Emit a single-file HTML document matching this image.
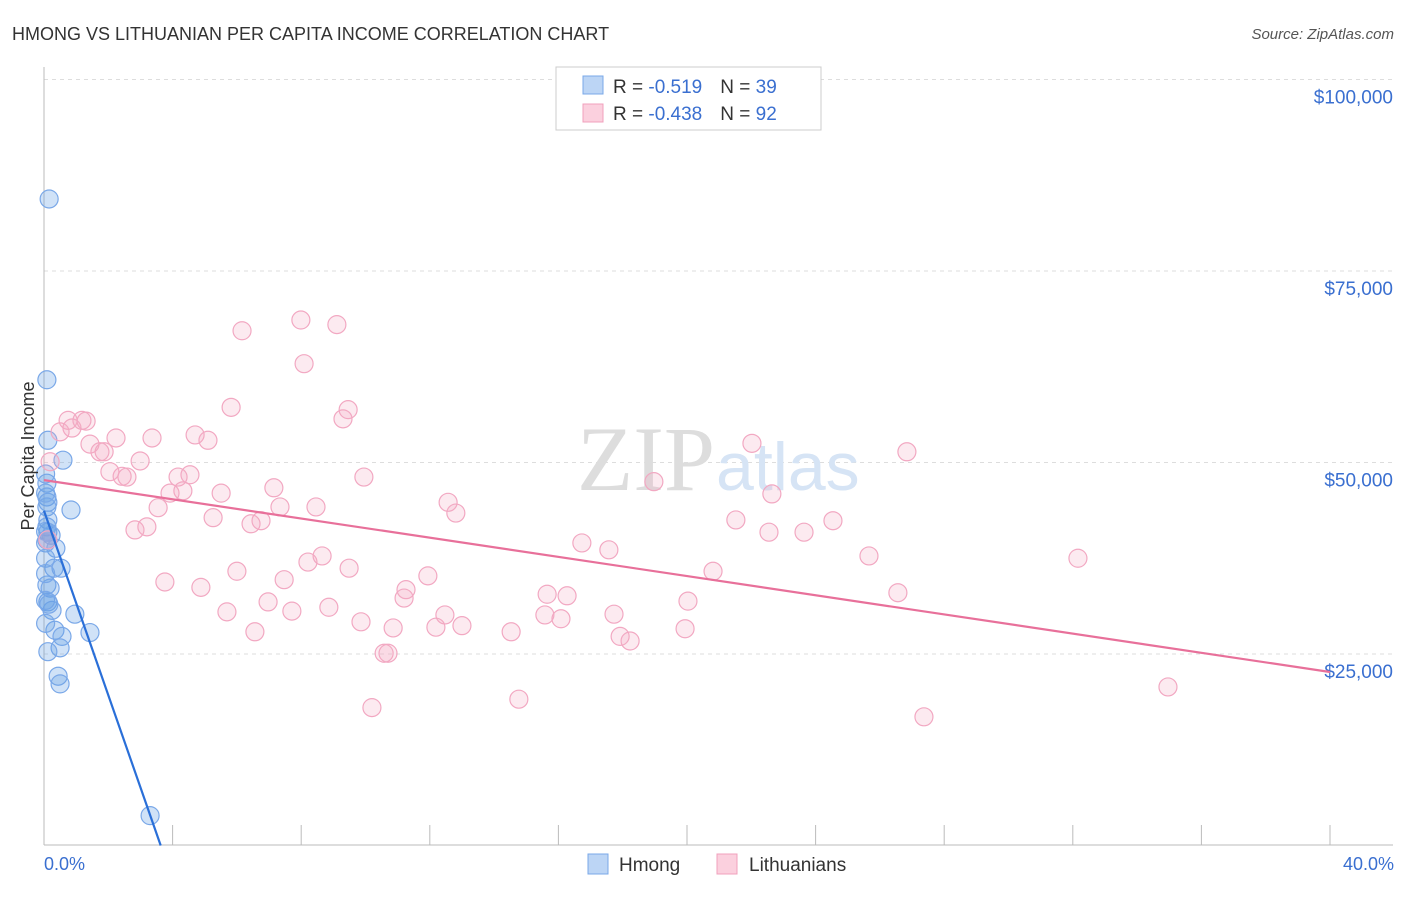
<!DOCTYPE html>
<html><head><meta charset="utf-8"><style>
body{margin:0;background:#fff;font-family:"Liberation Sans",sans-serif}
</style></head><body>
<svg width="1406" height="892" viewBox="0 0 1406 892" xmlns="http://www.w3.org/2000/svg">
<text x="12" y="40" font-size="18" fill="#333">HMONG VS LITHUANIAN PER CAPITA INCOME CORRELATION CHART</text>
<text x="1394" y="39" font-size="15" fill="#555" font-style="italic" text-anchor="end">Source: ZipAtlas.com</text>
<g id="grid"></g>
<text x="715" y="490" font-size="92" fill="#ddd" text-anchor="end" font-family="Liberation Serif,serif">ZIP</text>
<text x="716" y="490" font-size="68" fill="#d6e4f5">atlas</text>
<g id="axes"></g>
<g id="pts"></g>
<g id="lines"></g>
<text transform="translate(34,456) rotate(-90)" font-size="18" fill="#333" text-anchor="middle">Per Capita Income</text>
<text x="44" y="870" font-size="18" fill="#3a6fd0">0.0%</text>
<text x="1394" y="870" font-size="18" fill="#3a6fd0" text-anchor="end">40.0%</text>
<g>
<rect x="556" y="67" width="265" height="63" fill="#fff" stroke="#ccc"/>
<rect x="583" y="76" width="20" height="18" fill="#bcd5f5" stroke="#7aa8e8"/>
<rect x="583" y="104" width="20" height="18" fill="#fbd0de" stroke="#f0a0bc"/>
<text x="613" y="93" font-size="19" fill="#333">R = <tspan fill="#3a6fd0">-0.519</tspan><tspan dx="18">N = </tspan><tspan fill="#3a6fd0">39</tspan></text>
<text x="613" y="120" font-size="19" fill="#333">R = <tspan fill="#3a6fd0">-0.438</tspan><tspan dx="18">N = </tspan><tspan fill="#3a6fd0">92</tspan></text>
</g>
<g>
<rect x="588" y="854" width="20" height="20" fill="#bcd5f5" stroke="#7aa8e8"/>
<text x="619" y="871" font-size="19" fill="#333">Hmong</text>
<rect x="717" y="854" width="20" height="20" fill="#fbd0de" stroke="#f0a0bc"/>
<text x="749" y="871" font-size="19" fill="#333">Lithuanians</text>
</g>
</svg>
<script>
const yTicks=[25000,50000,75000,100000];
const yTickLabels=["$25,000","$50,000","$75,000","$100,000"];
const xTicks=[0,4,8,12,16,20,24,28,32,36,40];
const hmongX=[0.16,0.09,0.12,0.59,0.09,0.09,0.12,0.09,0.84,0.12,0.09,0.12,0.22,0.09,0.37,0.31,0.53,0.09,0.19,0.12,0.25,0.96,0.34,0.56,1.43,0.50,0.12,0.44,0.50,3.30,0.05,0.05,0.05,0.05,0.05,0.05,0.05,0.05,0.15];
const hmongY=[84.4,60.8,52.9,50.3,47.3,45.5,44.8,44.2,43.8,42.5,41.6,40.9,40.5,39.9,38.8,36.2,36.2,34.0,33.6,31.8,30.7,30.2,28.1,27.3,27.8,25.8,25.3,22.1,21.1,3.9,39.5,37.5,35.5,41.0,46.0,48.5,29.0,32.0,31.5];
const lithPx=[68,60,72,82,86,90,100,104,116,110,122,127,140,152,135,147,158,165,170,178,183,190,195,208,201,213,221,227,231,237,242,251,255,261,268,274,280,284,292,301,304,308,316,322,329,337,343,348,349,361,364,372,384,388,393,404,406,428,436,445,448,456,462,511,519,545,547,561,567,582,609,614,620,630,654,685,688,713,736,752,769,772,804,833,869,898,907,924,1078,1168,50,48];
const lithPy=[420,432,428,420,421,444,452,452,438,472,476,477,461,438,530,527,508,582,493,477,491,475,435,440,587,518,493,612,407,571,331,524,632,521,602,488,507,580,611,320,364,562,507,556,607,325,419,410,568,622,477,708,653,653,628,598,590,576,627,615,502,513,626,632,699,615,594,619,596,543,550,614,636,641,482,629,601,571,520,443,532,494,532,521,556,593,452,717,558,687,462,540];
const lithX=lithPx.map(p=>+((p-44)/1286*40).toFixed(2));
const lithY=lithPy.map(p=>+((845.5-p)/191.5*25).toFixed(1));
const hmongLine=[[0,43.7],[3.63,0]];
const lithLine=[[0,47.7],[40,22.65]];
const X=v=>44+v/40*1286, Y=k=>845.5-k/25*191.5;
const NS="http://www.w3.org/2000/svg";
function mk(t,a,p){const e=document.createElementNS(NS,t);for(const k in a)e.setAttribute(k,a[k]);p.appendChild(e);return e;}
const grid=document.getElementById('grid'),axes=document.getElementById('axes'),pts=document.getElementById('pts'),lines=document.getElementById('lines');
yTicks.forEach((t,i)=>{const y=Y(t/1000);
const l=mk('line',{x1:44,x2:1393,y1:y,y2:y,stroke:'#ddd','stroke-dasharray':'4,4'},grid);


const tx=mk('text',{x:1393,y:y+24,'font-size':19,fill:'#3a6fd0','text-anchor':'end'},grid);tx.textContent=yTickLabels[i];

});
mk('line',{x1:44,x2:44,y1:67,y2:845,stroke:'#bbb'},axes);
mk('line',{x1:44,x2:1393,y1:845,y2:845,stroke:'#bbb'},axes);
xTicks.forEach(t=>{const l=mk('line',{x1:X(t),x2:X(t),y1:825,y2:845,stroke:'#bbb'},axes);

});
hmongX.forEach((x,i)=>{const c=mk('circle',{cx:X(x),cy:Y(hmongY[i]),r:9,fill:'rgba(100,160,230,0.3)',stroke:'#7aa8e8','stroke-width':1.2},pts);

});
lithX.forEach((x,i)=>{const c=mk('circle',{cx:X(x),cy:Y(lithY[i]),r:9,fill:'rgba(245,170,195,0.25)',stroke:'#f2a8c2','stroke-width':1.2},pts);

});
const h=mk('line',{x1:X(hmongLine[0][0]),y1:Y(hmongLine[0][1]),x2:X(hmongLine[1][0]),y2:Y(hmongLine[1][1]),stroke:'#2a6fd8','stroke-width':2.2},lines);


const p=mk('line',{x1:X(lithLine[0][0]),y1:Y(lithLine[0][1]),x2:X(lithLine[1][0]),y2:Y(lithLine[1][1]),stroke:'#e8709a','stroke-width':2.2},lines);


</script>
</body></html>
